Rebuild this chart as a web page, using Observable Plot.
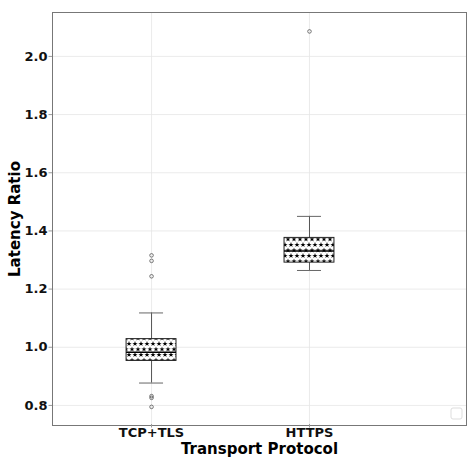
<!DOCTYPE html>
<html>
<head>
<meta charset="utf-8">
<script src="https://cdn.jsdelivr.net/npm/d3@7"></script>
<script src="https://cdn.jsdelivr.net/npm/@observablehq/plot@0.6"></script>
<style>
  html, body { margin: 0; padding: 0; background: #fff; }
  #chart { position: relative; width: 467px; height: 457px; }
  svg { font-family: "DejaVu Sans", sans-serif; }
</style>
</head>
<body>
<div id="chart"></div>
<script>
const categories = ["TCP+TLS", "HTTPS"];
const q1 = [0.953, 1.291];
const median = [0.983, 1.331];
const q3 = [1.028, 1.376];
const whiskerLo = [0.877, 1.264];
const whiskerHi = [1.118, 1.450];
const outliersTCP = [1.316, 1.297, 1.244, 0.832, 0.826, 0.795];
const outliersHTTPS = [2.086];
const yTicks = [0.8, 1.0, 1.2, 1.4, 1.6, 1.8, 2.0];

const boxes = categories.map((c, i) => ({
  pos: i, cat: c, q1: q1[i], med: median[i], q3: q3[i], lo: whiskerLo[i], hi: whiskerHi[i]
}));
const outliers = [
  ...outliersTCP.map(v => ({pos: 0, v})),
  ...outliersHTTPS.map(v => ({pos: 1, v}))
];
const hw = 0.158, cw = 0.076;

const plot = Plot.plot({
  width: 467,
  height: 457,
  marginLeft: 52,
  marginRight: 1,
  marginTop: 12,
  marginBottom: 32,
  style: {fontFamily: "DejaVu Sans, sans-serif", background: "#fff"},
  x: {domain: [-0.627, 1.994], label: null},
  y: {domain: [0.731, 2.151], label: null},
  marks: [
    Plot.gridX([0, 1], {stroke: "#e6e6e6", strokeOpacity: 1, strokeWidth: 0.8}),
    Plot.gridY(yTicks, {stroke: "#e6e6e6", strokeOpacity: 1, strokeWidth: 0.8}),
    Plot.ruleX(boxes, {x: "pos", y1: "lo", y2: "q1", stroke: "#555", strokeWidth: 1}),
    Plot.ruleX(boxes, {x: "pos", y1: "q3", y2: "hi", stroke: "#555", strokeWidth: 1}),
    Plot.ruleY(boxes, {y: "lo", x1: d => d.pos - cw, x2: d => d.pos + cw, stroke: "#666", strokeWidth: 1}),
    Plot.ruleY(boxes, {y: "hi", x1: d => d.pos - cw, x2: d => d.pos + cw, stroke: "#666", strokeWidth: 1}),
    Plot.rect(boxes, {x1: d => d.pos - hw, x2: d => d.pos + hw, y1: "q1", y2: "q3", fill: "url(#starHatch)", stroke: "#222", strokeWidth: 1}),
    Plot.ruleY(boxes, {y: "med", x1: d => d.pos - hw, x2: d => d.pos + hw, stroke: "#000", strokeWidth: 1.5}),
    Plot.dot(outliers, {x: "pos", y: "v", r: 1.8, stroke: "#555", fill: "none", strokeWidth: 0.8}),
    Plot.frame({stroke: "#777", strokeWidth: 1}),
    Plot.axisX([0, 1], {tickSize: 3.5, tickPadding: 0, dy: -1, stroke: "#999", tickFormat: d => categories[d], fontSize: 13, fontWeight: "bold", fill: "#111", label: null}),
    Plot.axisY(yTicks, {tickSize: 3.5, tickPadding: 1.5, stroke: "#999", tickFormat: d => d.toFixed(1), fontSize: 13, fontWeight: "bold", fill: "#111", label: null}),
    Plot.text(["Transport Protocol"], {frameAnchor: "bottom", lineAnchor: "bottom", dy: 28, fontSize: 15, fontWeight: "bold", fill: "#000"}),
    Plot.text(["Latency Ratio"], {frameAnchor: "left", textAnchor: "middle", dx: -37, rotate: -90, fontSize: 15, fontWeight: "bold", fill: "#000"})
  ]
});

// star hatch pattern definition
const ns = "http://www.w3.org/2000/svg";
const defs = document.createElementNS(ns, "defs");
const pat = document.createElementNS(ns, "pattern");
pat.setAttribute("id", "starHatch");
pat.setAttribute("patternUnits", "userSpaceOnUse");
pat.setAttribute("width", "12");
pat.setAttribute("height", "11");
const bg = document.createElementNS(ns, "rect");
bg.setAttribute("width", "12"); bg.setAttribute("height", "11"); bg.setAttribute("fill", "#fff");
pat.appendChild(bg);
const starPath = d3.symbol(d3.symbolStar, 9)();
[[3, 2.75], [9, 2.75], [0, 8.25], [6, 8.25], [12, 8.25]].forEach(([x, y]) => {
  const p = document.createElementNS(ns, "path");
  p.setAttribute("d", starPath);
  p.setAttribute("transform", `translate(${x},${y})`);
  p.setAttribute("fill", "#000");
  pat.appendChild(p);
});
defs.appendChild(pat);
plot.insertBefore(defs, plot.firstChild);

// empty legend box
const lg = document.createElementNS(ns, "rect");
lg.setAttribute("x", "451"); lg.setAttribute("y", "408");
lg.setAttribute("width", "11"); lg.setAttribute("height", "11");
lg.setAttribute("rx", "2"); lg.setAttribute("fill", "#fff");
lg.setAttribute("stroke", "#ddd"); lg.setAttribute("stroke-width", "1");
plot.appendChild(lg);

document.getElementById("chart").appendChild(plot);
</script>
</body>
</html>
